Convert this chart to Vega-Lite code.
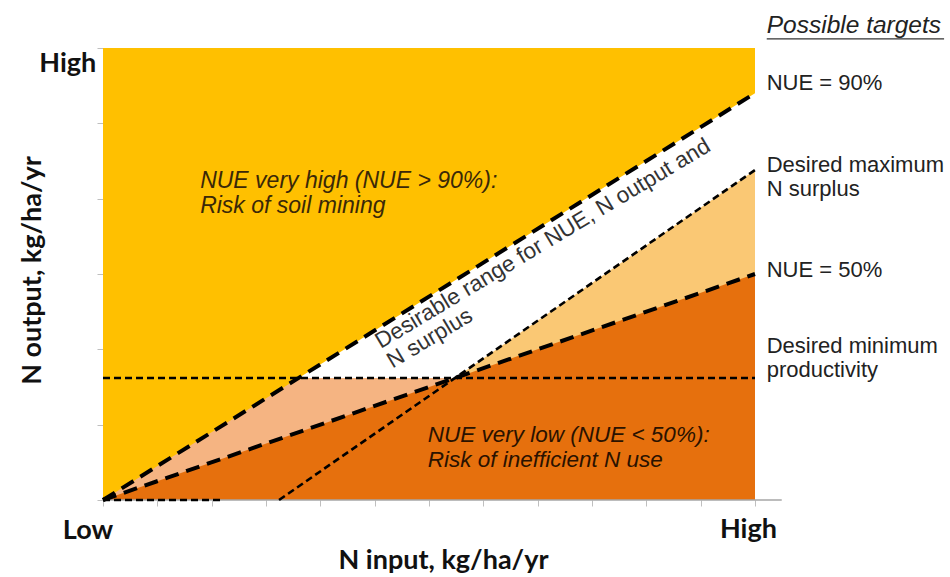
{
  "$schema": "https://vega.github.io/schema/vega-lite/v6.json",
  "width": 652,
  "height": 452,
  "autosize": {"type": "none"},
  "padding": {"left": 103, "top": 48, "right": 195, "bottom": 77},
  "background": "white",
  "config": {"view": {"stroke": null}},
  "datasets": {
    "regions": [
      {"region": "bg", "x": 0, "y": 0, "y2": 100},
      {"region": "bg", "x": 100, "y": 0, "y2": 100},
      {"region": "salmon", "x": 0, "y": 0, "y2": 0},
      {"region": "salmon", "x": 30, "y": 0, "y2": 27},
      {"region": "salmon", "x": 100, "y": 0, "y2": 27},
      {"region": "white", "x": 30, "y": 27, "y2": 27},
      {"region": "white", "x": 100, "y": 27, "y2": 90},
      {"region": "light", "x": 27, "y": 0, "y2": 0},
      {"region": "light", "x": 100, "y": 0, "y2": 73},
      {"region": "dark", "x": 0, "y": 0, "y2": 0},
      {"region": "dark", "x": 100, "y": 0, "y2": 50}
    ],
    "lines": [
      {"line": "nue90", "x": 0, "y": 0},
      {"line": "nue90", "x": 100, "y": 90},
      {"line": "nue50", "x": 0, "y": 0},
      {"line": "nue50", "x": 100, "y": 50},
      {"line": "surplus", "x": 27, "y": 0},
      {"line": "surplus", "x": 100, "y": 73},
      {"line": "minprod", "x": 0, "y": 27},
      {"line": "minprod", "x": 100, "y": 27},
      {"line": "base", "x": 0, "y": 0},
      {"line": "base", "x": 18, "y": 0}
    ],
    "labels": [
      {"grp": "axis", "x": -2.3, "y": -8.6, "label": "Low"},
      {"grp": "axis", "x": 99, "y": -8.4, "label": "High"},
      {"grp": "axis", "x": -5.4, "y": 94.7, "label": "High"},
      {"grp": "note1", "x": 14.9, "y": 69.0, "label": "NUE very high (NUE > 90%):\nRisk of soil mining"},
      {"grp": "note2", "x": 49.8, "y": 12.8, "label": "NUE very low (NUE < 50%):\nRisk of inefficient N use"},
      {"grp": "diag", "x": 42.6, "y": 33.4, "label": "Desirable range for NUE, N output and\nN surplus"},
      {"grp": "head", "x": 101.8, "y": 103.3, "label": "Possible targets"},
      {"grp": "target", "x": 101.8, "y": 90.7, "label": "NUE = 90%"},
      {"grp": "target", "x": 101.8, "y": 72.6, "label": "Desired maximum\nN surplus"},
      {"grp": "target", "x": 101.8, "y": 49.3, "label": "NUE = 50%"},
      {"grp": "target", "x": 101.8, "y": 32.5, "label": "Desired minimum\nproductivity"}
    ],
    "rules": [
      {"rule": "xaxis", "x": 0, "x2": 104.1, "y": 0},
      {"rule": "underline", "x": 101.8, "x2": 129.0, "y": 102.0}
    ]
  },
  "encoding": {
    "x": {
      "field": "x",
      "type": "quantitative",
      "scale": {"domain": [0, 100], "nice": false, "zero": false},
      "axis": {
        "values": [0, 8.333, 16.667, 25, 33.333, 41.667, 50, 58.333, 66.667, 75, 83.333, 91.667, 100],
        "labels": false,
        "domain": false,
        "grid": false,
        "tickColor": "#BFBFBF",
        "tickSize": 6,
        "tickWidth": 1,
        "title": "N input, kg/ha/yr",
        "titleFont": "Lato",
        "titleFontWeight": "bold",
        "titleFontSize": 27,
        "titleColor": "#111111",
        "titleX": 340,
        "titleY": 68,
        "titleAlign": "center",
        "titleBaseline": "alphabetic"
      }
    },
    "y": {
      "field": "y",
      "type": "quantitative",
      "scale": {"domain": [0, 100], "nice": false, "zero": false},
      "axis": {
        "values": [0, 16.667, 33.333, 50, 66.667, 83.333, 100],
        "labels": false,
        "domain": false,
        "grid": false,
        "tickColor": "#BFBFBF",
        "tickSize": 6,
        "tickWidth": 1,
        "title": "N output, kg/ha/yr",
        "titleFont": "Lato",
        "titleFontWeight": "bold",
        "titleFontSize": 27,
        "titleColor": "#111111",
        "titleX": -63,
        "titleY": 222,
        "titleAngle": 270,
        "titleAlign": "center",
        "titleBaseline": "alphabetic"
      }
    }
  },
  "layer": [
    {
      "data": {"name": "regions"},
      "transform": [{"filter": "datum.region == 'bg'"}],
      "mark": {"type": "area", "color": "#FFC000"},
      "encoding": {"y2": {"field": "y2"}}
    },
    {
      "data": {"name": "regions"},
      "transform": [{"filter": "datum.region == 'salmon'"}],
      "mark": {"type": "area", "color": "#F5B482"},
      "encoding": {"y2": {"field": "y2"}}
    },
    {
      "data": {"name": "regions"},
      "transform": [{"filter": "datum.region == 'white'"}],
      "mark": {"type": "area", "color": "#FFFFFF"},
      "encoding": {"y2": {"field": "y2"}}
    },
    {
      "data": {"name": "regions"},
      "transform": [{"filter": "datum.region == 'light'"}],
      "mark": {"type": "area", "color": "#FAC874"},
      "encoding": {"y2": {"field": "y2"}}
    },
    {
      "data": {"name": "regions"},
      "transform": [{"filter": "datum.region == 'dark'"}],
      "mark": {"type": "area", "color": "#E6700D"},
      "encoding": {"y2": {"field": "y2"}}
    },
    {
      "data": {"name": "rules"},
      "transform": [{"filter": "datum.rule == 'xaxis'"}],
      "mark": {"type": "rule", "color": "#A6A6A6", "strokeWidth": 1.5},
      "encoding": {"x2": {"field": "x2"}}
    },
    {
      "data": {"name": "lines"},
      "transform": [{"filter": "datum.line == 'nue90' || datum.line == 'nue50'"}],
      "mark": {"type": "line", "color": "#000000", "strokeWidth": 4, "strokeDash": [14, 8]},
      "encoding": {"detail": {"field": "line"}}
    },
    {
      "data": {"name": "lines"},
      "transform": [{"filter": "datum.line != 'nue90' && datum.line != 'nue50'"}],
      "mark": {"type": "line", "color": "#000000", "strokeWidth": 2.6, "strokeDash": [7, 4]},
      "encoding": {"detail": {"field": "line"}}
    },
    {
      "data": {"name": "rules"},
      "transform": [{"filter": "datum.rule == 'underline'"}],
      "mark": {"type": "rule", "color": "#333333", "strokeWidth": 1.2},
      "encoding": {"x2": {"field": "x2"}}
    },
    {
      "data": {"name": "labels"},
      "transform": [{"filter": "datum.grp == 'axis'"}],
      "mark": {"type": "text", "font": "Lato", "fontWeight": "bold", "fontSize": 27, "color": "#111111", "align": "center", "baseline": "alphabetic"},
      "encoding": {"text": {"field": "label"}}
    },
    {
      "data": {"name": "labels"},
      "transform": [{"filter": "datum.grp == 'note1'"}],
      "mark": {"type": "text", "font": "Liberation Sans", "fontStyle": "italic", "fontSize": 23, "color": "#3A2808", "align": "left", "baseline": "alphabetic", "lineBreak": "\n", "lineHeight": 25},
      "encoding": {"text": {"field": "label"}}
    },
    {
      "data": {"name": "labels"},
      "transform": [{"filter": "datum.grp == 'note2'"}],
      "mark": {"type": "text", "font": "Liberation Sans", "fontStyle": "italic", "fontSize": 22.5, "color": "#2A1200", "align": "left", "baseline": "alphabetic", "lineBreak": "\n", "lineHeight": 25},
      "encoding": {"text": {"field": "label"}}
    },
    {
      "data": {"name": "labels"},
      "transform": [{"filter": "datum.grp == 'diag'"}],
      "mark": {"type": "text", "font": "Liberation Sans", "fontSize": 22.5, "color": "#333333", "align": "left", "baseline": "alphabetic", "angle": -31, "lineBreak": "\n", "lineHeight": 23},
      "encoding": {"text": {"field": "label"}}
    },
    {
      "data": {"name": "labels"},
      "transform": [{"filter": "datum.grp == 'head'"}],
      "mark": {"type": "text", "font": "Liberation Sans", "fontStyle": "italic", "fontSize": 24.5, "color": "#222222", "align": "left", "baseline": "alphabetic"},
      "encoding": {"text": {"field": "label"}}
    },
    {
      "data": {"name": "labels"},
      "transform": [{"filter": "datum.grp == 'target'"}],
      "mark": {"type": "text", "font": "Liberation Sans", "fontSize": 22, "color": "#222222", "align": "left", "baseline": "alphabetic", "lineBreak": "\n", "lineHeight": 24},
      "encoding": {"text": {"field": "label"}}
    }
  ]
}
